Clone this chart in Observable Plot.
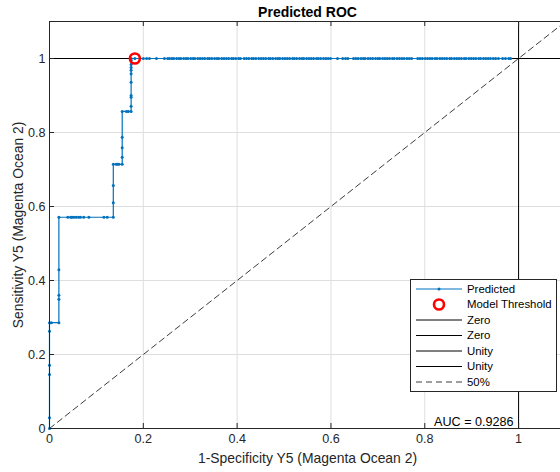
<!DOCTYPE html>
<html><head><meta charset="utf-8">
<script src="https://cdn.jsdelivr.net/npm/d3@7"></script>
<script src="https://cdn.jsdelivr.net/npm/@observablehq/plot@0.6"></script>
<style>
body{margin:0;background:#fff;overflow:hidden}
#chart{position:relative;width:560px;height:472px}
</style>
</head><body><div id="chart"></div>
<script>
// Rising part of the ROC curve (1-specificity, sensitivity)
const riseX = [0,0,0,0,0,0,0.004,0.02,0.02,0.02,0.02,0.02,
  0.039,0.045,0.048,0.052,0.057,0.062,0.066,0.073,0.084,0.116,0.123,0.136,
  0.136,0.136,0.136,0.142,0.145,0.148,0.155,0.155,0.155,0.155,0.155,
  0.164,0.168,0.174,0.174,0.174,0.174,0.174,0.174,0.174,0.174,0.174,0.174,0.174];
const riseY = [0,0.029,0.146,0.171,0.263,0.286,0.286,0.286,0.349,0.36,0.429,0.571,
  0.571,0.571,0.571,0.571,0.571,0.571,0.571,0.571,0.571,0.571,0.571,0.571,
  0.61,0.657,0.714,0.714,0.714,0.714,0.714,0.733,0.759,0.787,0.857,
  0.857,0.857,0.857,0.871,0.895,0.9,0.936,0.959,0.968,0.976,0.984,0.995,1];
// Plateau at sensitivity = 1
const plateauX = [0.182,0.2,0.207,0.213,0.228,0.245,0.252,
  0.256,0.261,0.265,0.271,0.276,0.28,0.286,0.291,0.295,0.301,0.306,0.31,0.316,0.321,0.326,0.331,0.337,0.341,0.346,0.352,0.357,0.361,0.367,0.372,0.377,0.382,0.388,0.392,0.397,0.403,0.407,
  0.415,0.42,0.425,0.431,0.435,0.44,0.446,0.451,0.456,0.461,0.467,0.471,0.476,0.482,0.487,0.491,0.497,0.502,0.507,0.512,0.518,0.522,0.527,0.533,0.538,0.542,0.548,0.553,0.558,0.563,0.569,0.573,0.578,0.584,0.589,0.594,0.599,
  0.614,0.625,0.631,0.636,
  0.648,0.653,0.658,0.664,0.669,0.673,0.679,0.684,0.689,0.695,0.7,0.704,0.71,0.715,0.72,0.725,0.731,0.735,0.741,0.746,0.751,0.756,0.762,0.767,0.772,
  0.785,0.79,0.795,0.801,0.806,0.811,0.816,0.822,0.826,0.832,0.837,0.842,0.847,0.853,0.857,0.863,0.868,0.873,0.878,0.884,0.888,0.894,0.899,0.904,0.909,0.915,0.919,0.925,0.93,0.935,0.94,0.946,0.951,0.957,
  0.966,0.972,0.979,0.983];
const plateauY = 1;
const thresholdX = [0.182];
const thresholdY = [1];
const zeroLines = [0];
const unityLines = [1];
const chanceLine = [0, 1.1];
const axisDomain = [0, 1.1];
const xTicks = [0, 0.2, 0.4, 0.6, 0.8, 1];
const yTicks = [0, 0.2, 0.4, 0.6, 0.8, 1];
const titleText = "Predicted ROC";
const xLabel = "1-Specificity Y5 (Magenta Ocean 2)";
const yLabel = "Sensitivity Y5 (Magenta Ocean 2)";
const aucText = "AUC = 0.9286";
const legendLabels = ["Predicted", "Model Threshold", "Zero", "Zero", "Unity", "Unity", "50%"];

const roc = riseX.map((x, i) => ({x, y: riseY[i]}))
  .concat(plateauX.map(x => ({x, y: plateauY})));
const thr = thresholdX.map((x, i) => ({x, y: thresholdY[i]}));
const diag = chanceLine.map(v => ({x: v, y: v}));

const FONT = "'Liberation Sans', Arial, Helvetica, sans-serif";
const BLUE = "#0072BD";
const INK = "#262626";

const plot = Plot.plot({
  width: 560, height: 472,
  marginLeft: 49, marginTop: 21, marginBottom: 44, marginRight: -5,
  x: {domain: axisDomain, axis: null},
  y: {domain: axisDomain, axis: null},
  style: {fontFamily: FONT, fontSize: "12.6px", color: INK, background: "#fff"},
  marks: [
    Plot.gridX(xTicks, {stroke: "#dedede", strokeOpacity: 1}),
    Plot.gridY(yTicks, {stroke: "#dedede", strokeOpacity: 1}),
    Plot.ruleX(zeroLines, {stroke: "#000", strokeWidth: 1}),
    Plot.ruleY(zeroLines, {stroke: "#000", strokeWidth: 1}),
    Plot.ruleX(unityLines, {stroke: "#000", strokeWidth: 1}),
    Plot.ruleY(unityLines, {stroke: "#000", strokeWidth: 1}),
    Plot.line(diag, {x: "x", y: "y", stroke: INK, strokeWidth: 0.9, strokeDasharray: "6,4"}),
    Plot.line(roc, {x: "x", y: "y", stroke: BLUE, strokeWidth: 1.2}),
    Plot.dot(roc, {x: "x", y: "y", r: 1.5, fill: BLUE, stroke: "none"}),
    Plot.dot(thr, {x: "x", y: "y", r: 5, stroke: "#ff0000", strokeWidth: 2.6, fill: "none"}),
    Plot.frame({stroke: INK, strokeWidth: 1}),
    Plot.tickX(xTicks, {x: d => d, insetTop: 402, stroke: INK}),
    Plot.tickX(xTicks, {x: d => d, insetBottom: 402, stroke: INK}),
    Plot.tickY(yTicks, {y: d => d, insetRight: 511, stroke: INK}),
    Plot.axisX(xTicks, {tickSize: 0, tickPadding: 6, tickFormat: d => String(d), fontSize: 12.6, fill: INK, label: null}),
    Plot.axisY(yTicks, {tickSize: 0, tickPadding: 4, tickFormat: d => String(d), fontSize: 12.6, fill: INK, label: null}),
    Plot.text([aucText], {x: unityLines[0], y: zeroLines[0], text: d => d, textAnchor: "end", lineAnchor: "middle", dx: -5, dy: -7, fontSize: 12.6, fill: "#000"}),
    Plot.text([titleText], {frameAnchor: "top", text: d => d, textAnchor: "middle", lineAnchor: "middle", dy: -8.5, fontSize: 14, fontWeight: "bold", fill: "#000"}),
    Plot.text([xLabel], {frameAnchor: "bottom", text: d => d, textAnchor: "middle", lineAnchor: "middle", dy: 30, fontSize: 13.9, fill: INK}),
    Plot.text([yLabel], {frameAnchor: "left", text: d => d, textAnchor: "middle", lineAnchor: "middle", dx: -31, rotate: -90, fontSize: 13.9, fill: INK})
  ]
});
document.getElementById("chart").appendChild(plot);

// Legend box (MATLAB style), drawn into the same SVG
const svg = d3.select(plot);
const lg = svg.append("g").attr("font-family", FONT).attr("font-size", "11.4px").attr("text-anchor", "start");
lg.append("rect").attr("x", 410.5).attr("y", 279.5).attr("width", 146).attr("height", 112)
  .attr("fill", "#fff").attr("stroke", INK).attr("stroke-width", 1);
const rowY = i => 289 + i * 15.5;
legendLabels.forEach((lab, i) => {
  const y = rowY(i);
  if (i === 0) {
    lg.append("line").attr("x1", 416).attr("x2", 462).attr("y1", y).attr("y2", y).attr("stroke", BLUE).attr("stroke-width", 1.2);
    lg.append("circle").attr("cx", 439).attr("cy", y).attr("r", 1.5).attr("fill", BLUE);
  } else if (i === 1) {
    lg.append("circle").attr("cx", 439).attr("cy", y).attr("r", 5).attr("fill", "none").attr("stroke", "#ff0000").attr("stroke-width", 2.6);
  } else if (i === 6) {
    lg.append("line").attr("x1", 416).attr("x2", 462).attr("y1", y).attr("y2", y).attr("stroke", INK).attr("stroke-width", 0.9).attr("stroke-dasharray", "6,4");
  } else {
    lg.append("line").attr("x1", 416).attr("x2", 462).attr("y1", y).attr("y2", y).attr("stroke", "#000").attr("stroke-width", 1);
  }
  lg.append("text").attr("x", 467).attr("y", y).attr("dy", "0.35em").attr("text-anchor", "start").attr("fill", "#000").text(lab);
});
</script>
</body></html>
